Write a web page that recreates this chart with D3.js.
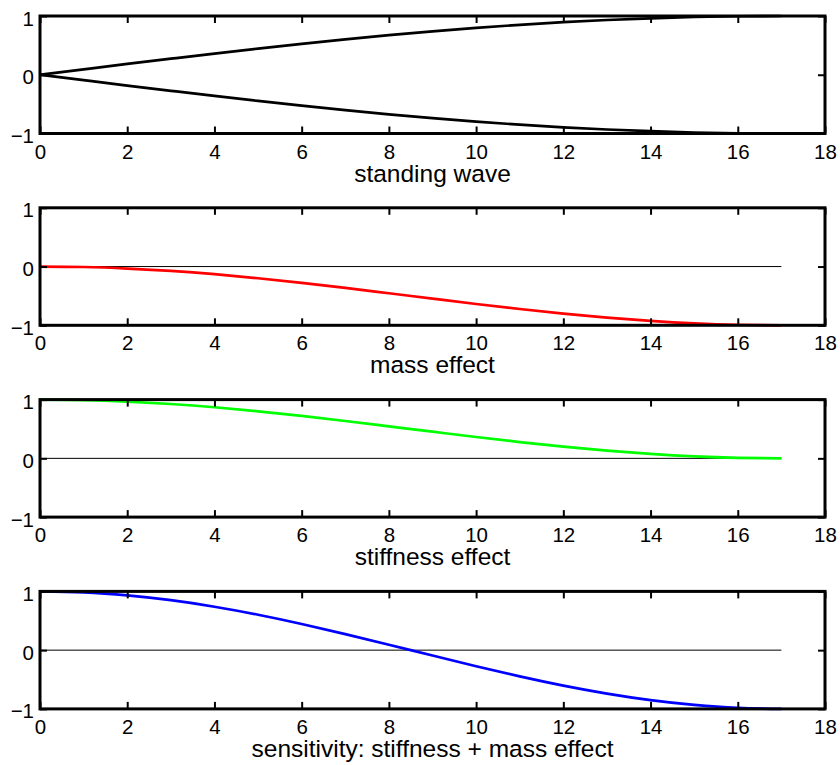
<!DOCTYPE html>
<html lang="en">
<head>
<meta charset="utf-8">
<title>standing wave sensitivity</title>
<script src="https://cdn.jsdelivr.net/npm/d3@7"></script>
<style>
  body { margin: 0; background: #fff; }
  svg text { font-family: "Liberation Sans", Arial, Helvetica, sans-serif; fill: #000; }
</style>
</head>
<body>
<script>
// x positions along the string (read at integer steps)
var xs = [0, 1, 2, 3, 4, 5, 6, 7, 8, 9, 10, 11, 12, 13, 14, 15, 16, 17];

// standing wave envelope (upper and lower branch)
var waveUp   = [0, 0.092, 0.184, 0.273, 0.361, 0.446, 0.526, 0.603, 0.674, 0.739, 0.798, 0.850, 0.895, 0.932, 0.961, 0.983, 0.996, 1.0];
var waveDown = [0, -0.092, -0.184, -0.273, -0.361, -0.446, -0.526, -0.603, -0.674, -0.739, -0.798, -0.850, -0.895, -0.932, -0.961, -0.983, -0.996, -1.0];
// mass effect
var massFx   = [0, -0.008, -0.034, -0.075, -0.130, -0.199, -0.277, -0.364, -0.455, -0.546, -0.637, -0.723, -0.801, -0.869, -0.924, -0.966, -0.991, -1.0];
// stiffness effect
var stiffFx  = [1.0, 0.992, 0.966, 0.925, 0.870, 0.801, 0.723, 0.636, 0.545, 0.454, 0.363, 0.277, 0.199, 0.131, 0.076, 0.034, 0.009, 0];
// sensitivity = stiffness + mass
var sensFx   = [1.0, 0.983, 0.932, 0.850, 0.739, 0.603, 0.446, 0.273, 0.092, -0.092, -0.273, -0.446, -0.603, -0.739, -0.850, -0.932, -0.983, -1.0];

var xTicks = [0, 2, 4, 6, 8, 10, 12, 14, 16, 18];
var yTicks = [-1, 0, 1];

var panels = [
  { title: "standing wave", series: [[waveUp, "#000"], [waveDown, "#000"]], zero: false },
  { title: "mass effect", series: [[massFx, "#ff0000"]], zero: true },
  { title: "stiffness effect", series: [[stiffFx, "#00ff00"]], zero: true },
  { title: "sensitivity: stiffness + mass effect", series: [[sensFx, "#0000ff"]], zero: true }
];

var W = 840, H = 765;
var left = 40, right = 825;
var top0 = 16, step = 191.8, ph = 117.5;

var svg = d3.select("body").append("svg")
    .attr("width", W)
    .attr("height", H);

var x = d3.scaleLinear().domain([0, 18]).range([left, right]);

panels.forEach(function(p, i) {
  var t = top0 + step * i;
  var y = d3.scaleLinear().domain([-1, 1]).range([t + ph, t]);
  var g = svg.append("g");

  // zero reference line
  if (p.zero) {
    g.append("line")
      .attr("x1", x(0)).attr("x2", x(17))
      .attr("y1", y(0)).attr("y2", y(0))
      .attr("stroke", "#000")
      .attr("stroke-width", 1);
  }

  var line = d3.line()
      .x(function(d, k) { return x(xs[k]); })
      .y(function(d) { return y(d); })
      .curve(d3.curveNatural);

  p.series.forEach(function(s) {
    g.append("path")
      .datum(s[0])
      .attr("d", line)
      .attr("fill", "none")
      .attr("stroke", s[1])
      .attr("stroke-width", 2.7);
  });

  // axes, ticks pointing inward
  var xb = g.append("g")
      .attr("transform", "translate(0," + y(-1) + ")")
      .call(d3.axisBottom(x).tickValues(xTicks).tickSize(-7).tickFormat(d3.format("d")));
  xb.selectAll("text")
      .attr("dy", null)
      .attr("y", 25)
      .style("font-size", "20.5px");

  g.append("g")
      .attr("transform", "translate(0," + y(1) + ")")
      .call(d3.axisTop(x).tickValues(xTicks).tickSize(-7).tickFormat(""));

  var yl = g.append("g")
      .attr("transform", "translate(" + left + ",0)")
      .call(d3.axisLeft(y).tickValues(yTicks).tickSize(-7).tickFormat(d3.format("d")));
  yl.selectAll("text")
      .attr("dy", null)
      .attr("x", -6)
      .attr("y", 9)
      .style("font-size", "20.5px");

  g.append("g")
      .attr("transform", "translate(" + right + ",0)")
      .call(d3.axisRight(y).tickValues(yTicks).tickSize(-7).tickFormat(""));

  g.selectAll(".domain").remove();
  g.selectAll(".tick line").attr("stroke", "#000").attr("stroke-width", 2);
  g.selectAll(".tick text").attr("fill", "#000");

  // frame
  g.append("rect")
    .attr("x", left).attr("y", t)
    .attr("width", right - left).attr("height", ph)
    .attr("fill", "none")
    .attr("stroke", "#000")
    .attr("stroke-width", 3);

  g.append("text")
    .attr("x", (left + right) / 2)
    .attr("y", y(-1) + 48)
    .attr("text-anchor", "middle")
    .style("font-size", "24.5px")
    .text(p.title);
});
</script>
</body>
</html>
